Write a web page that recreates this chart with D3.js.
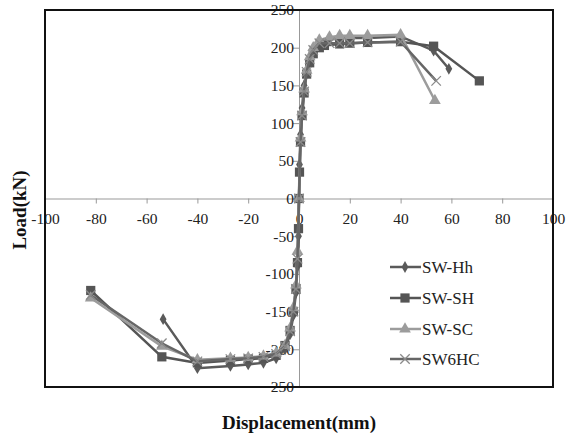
<!DOCTYPE html>
<html><head><meta charset="utf-8">
<script src="https://cdn.jsdelivr.net/npm/d3@7"></script>
<style>body{margin:0;background:#fff}svg{display:block}text{font-family:"Liberation Serif","DejaVu Serif",serif}</style>
</head><body><svg id="c" width="570" height="438"></svg>
<script>
const xTicks = [-100,-80,-60,-40,-20,0,20,40,60,80,100];
const yTicks = [-250,-200,-150,-100,-50,0,50,100,150,200,250];
const yTickLabels = ["250","-200","-150","-100","-50","0","50","100","150","200","250"];

const hhX = [-53.5,-40,-27,-20,-14,-9,-5.5,-3.5,-2.2,-1.2,-0.6,-0.2,0,0.2,0.6,1.2,2,3,4.2,5.6,8,12,16,20,27,40,53,59];
const hhY = [-160,-225,-222,-220,-218,-212,-200,-180,-155,-125,-90,-50,0,45,85,120,150,170,185,196,208,212,213,213,213,215,196,172];
const shX = [-82,-54,-40,-27,-20,-14,-9,-5.5,-3.5,-2.2,-1.2,-0.6,-0.2,0,0.2,0.6,1.2,2,3,4.2,5.6,8,10,16,20,27,40,53,71];
const shY = [-122,-210,-218,-215,-213,-212,-208,-195,-175,-150,-120,-85,-40,0,35,75,110,140,165,180,192,200,203,205,206,207,208,202,156];
const scX = [-82,-54,-40,-27,-20,-14,-9,-5.5,-3.5,-2.2,-1.2,-0.6,0,0.6,1.2,2,3,4.2,5.6,8,12,16,20,27,40,53.5];
const scY = [-132,-196,-214,-212,-211,-209,-205,-195,-172,-145,-115,-70,0,80,115,145,170,188,200,210,214,216,216,216,217,130];
const hcX = [-82,-54,-40,-27,-20,-14,-9,-5.5,-3.5,-2.2,-1.2,-0.6,0,0.6,1.2,2,3,4.2,5.6,8,12,16,20,27,40,54];
const hcY = [-128,-192,-216,-213,-212,-210,-206,-196,-176,-150,-120,-80,0,75,110,142,168,185,197,206,206,206,206,207,208,156];

const seriesNames = ["SW-Hh","SW-SH","SW-SC","SW6HC"];
const series = [
  {name:seriesNames[0], xs:hhX, ys:hhY, color:"#5a5a5a", mark:"diamond", mcolor:"#5a5a5a"},
  {name:seriesNames[1], xs:shX, ys:shY, color:"#555555", mark:"square", mcolor:"#555555"},
  {name:seriesNames[2], xs:scX, ys:scY, color:"#9c9c9c", mark:"triangle", mcolor:"#9c9c9c"},
  {name:seriesNames[3], xs:hcX, ys:hcY, color:"#666666", mark:"x", mcolor:"#8a8a8a"}
];

const svg = d3.select("#c");
const L=45, R=553, T=10, B=387;
const x = d3.scaleLinear().domain([-100,100]).range([L,R]);
const y = d3.scaleLinear().domain([-250,250]).range([B,T]);

const xAxis = d3.axisBottom(x).tickValues(xTicks).tickSize(5).tickFormat(d=>d);
const gx = svg.append("g").attr("transform",`translate(0,${y(0)})`).call(xAxis);
gx.select(".domain").attr("stroke","#999");
gx.selectAll(".tick line").attr("stroke","#999");
gx.selectAll(".tick text").attr("font-size",15.5).attr("fill","#222").attr("dy","1.15em").text(d=>d===0?"0":d);

const yAxis = d3.axisLeft(y).tickValues(yTicks).tickSize(6).tickFormat((d,i)=>yTickLabels[i]);
const gy = svg.append("g").attr("transform",`translate(${x(0)},0)`).call(yAxis);
gy.select(".domain").attr("stroke","#999");
gy.selectAll(".tick line").attr("stroke","#999");
gy.selectAll(".tick text").attr("font-size",15.5).attr("fill","#222").attr("x",-5);

svg.append("rect").attr("x",L).attr("y",T).attr("width",R-L).attr("height",B-T)
  .attr("fill","none").attr("stroke","#111").attr("stroke-width",2);

const sym = {
  diamond: d3.symbol().type(d3.symbolDiamond).size(40),
  square: d3.symbol().type(d3.symbolSquare).size(85),
  triangle: d3.symbol().type(d3.symbolTriangle).size(60),
  x: d3.symbol().type(d3.symbolTimes).size(60)
};
function drawMark(g, s, px, py){
  const p = g.append("path").attr("d", sym[s.mark]()).attr("transform",`translate(${px},${py})`);
  if(s.mark==="x") p.attr("fill","none").attr("stroke",s.mcolor).attr("stroke-width",1.3);
  else p.attr("fill",s.mcolor);
}
const line = d3.line().x(d=>x(d[0])).y(d=>y(d[1]));
series.forEach(s=>{
  const pts = s.xs.map((v,i)=>[v,s.ys[i]]);
  const g = svg.append("g");
  g.append("path").datum(pts).attr("d",line).attr("fill","none").attr("stroke",s.color).attr("stroke-width",2.5);
  pts.forEach(p=>drawMark(g,s,x(p[0]),y(p[1])));
});

const legY = [267,298,329,359];
series.forEach((s,i)=>{
  const g = svg.append("g");
  g.append("line").attr("x1",390).attr("x2",421).attr("y1",legY[i]).attr("y2",legY[i]).attr("stroke",s.color).attr("stroke-width",2.5);
  drawMark(g,s,405,legY[i]);
  g.append("text").attr("x",422).attr("y",legY[i]+6).attr("font-size",17).attr("fill","#222").text(s.name);
});

svg.append("text").attr("x",299).attr("y",429).attr("text-anchor","middle").attr("font-size",19).attr("font-weight","bold").attr("fill","#111").text("Displacement(mm)");
svg.append("text").attr("transform","translate(26,210) rotate(-90)").attr("text-anchor","middle").attr("font-size",19).attr("font-weight","bold").attr("fill","#111").text("Load(kN)");
</script></body></html>
